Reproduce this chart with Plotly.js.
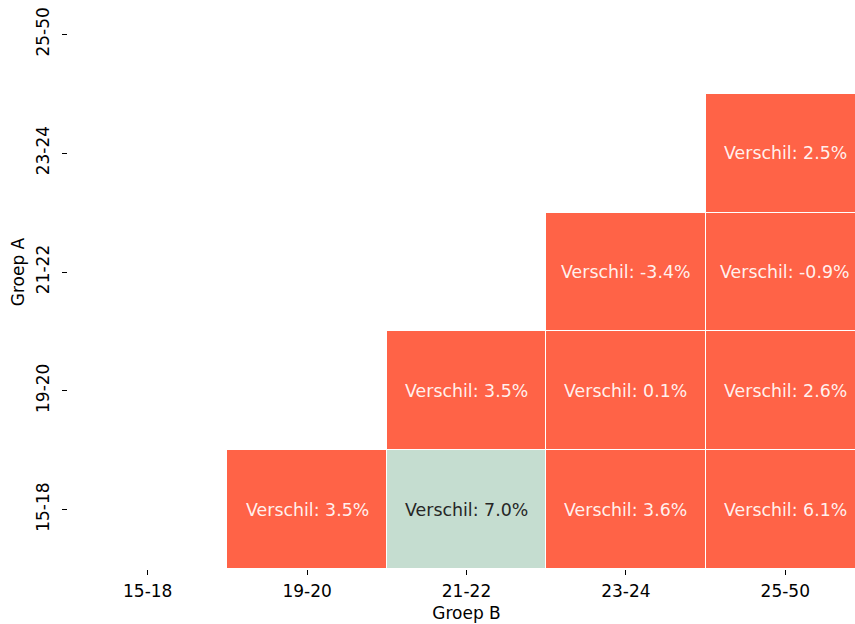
<!DOCTYPE html>
<html>
<head>
<meta charset="utf-8">
<script src="https://cdn.plot.ly/plotly-3.0.1.min.js"></script>
<style>
html,body{margin:0;padding:0;overflow:hidden;width:855px;height:624px;background:#fff;}
#chart{position:absolute;left:0;top:-40px;width:880px;height:680px;}
</style>
</head>
<body>
<div id="chart"></div>
<script>
// Categories
const groepB = ['15-18','19-20','21-22','23-24','25-50'];
const groepA = ['15-18','19-20','21-22','23-24','25-50'];
// Differences (%) per row of Groep A, columns Groep B
const verschil = [
  [null, 3.5, 7.0, 3.6, 6.1],
  [null, null, 3.5, 0.1, 2.6],
  [null, null, null, -3.4, -0.9],
  [null, null, null, null, 2.5],
  [null, null, null, null, null]
];
// Category flag per cell (1 = red, 0 = green)
const klasse = [
  [null, 1, 0, 1, 1],
  [null, null, 1, 1, 1],
  [null, null, null, 1, 1],
  [null, null, null, null, 1],
  [null, null, null, null, null]
];

const red = '#ff6347', green = '#c5ddd0';
const annotations = [];
for (let i = 0; i < groepA.length; i++) {
  for (let j = 0; j < groepB.length; j++) {
    const v = verschil[i][j];
    if (v === null) continue;
    annotations.push({
      x: groepB[j], y: groepA[i], xref: 'x', yref: 'y',
      text: 'Verschil: ' + v.toFixed(1) + '%',
      showarrow: false,
      font: {family: 'DejaVu Sans', size: 17.4, color: klasse[i][j] === 1 ? 'rgba(255,255,255,0.92)' : '#262626'}
    });
  }
}

const trace = {
  type: 'heatmap',
  x: groepB, y: groepA, z: klasse,
  colorscale: [[0, green], [0.5, green], [0.5, red], [1, red]],
  zmin: 0, zmax: 1,
  showscale: false,
  xgap: 1, ygap: 1,
  hoverinfo: 'skip'
};

const fnt = {family: 'DejaVu Sans', size: 17, color: '#000'};
const layout = {
  width: 880, height: 680,
  margin: {l: 68, r: 15, t: 15, b: 71},
  paper_bgcolor: '#fff', plot_bgcolor: '#fff',
  font: fnt,
  xaxis: {
    type: 'category', showgrid: false, zeroline: false, showline: false,
    ticks: 'outside', ticklen: 5, tickwidth: 1, tickcolor: '#000',
    ticklabelstandoff: 2,
    tickfont: fnt,
    title: {text: 'Groep B', font: fnt, standoff: 6}
  },
  yaxis: {
    type: 'category', showgrid: false, zeroline: false, showline: false,
    ticks: 'outside', ticklen: 5, tickwidth: 1, tickcolor: '#000',
    ticklabelstandoff: 6,
    tickangle: -90,
    tickfont: fnt,
    title: {text: 'Groep A', font: fnt, standoff: 4}
  },
  annotations: annotations
};

Plotly.newPlot('chart', [trace], layout, {staticPlot: true, displayModeBar: false});
</script>
</body>
</html>
